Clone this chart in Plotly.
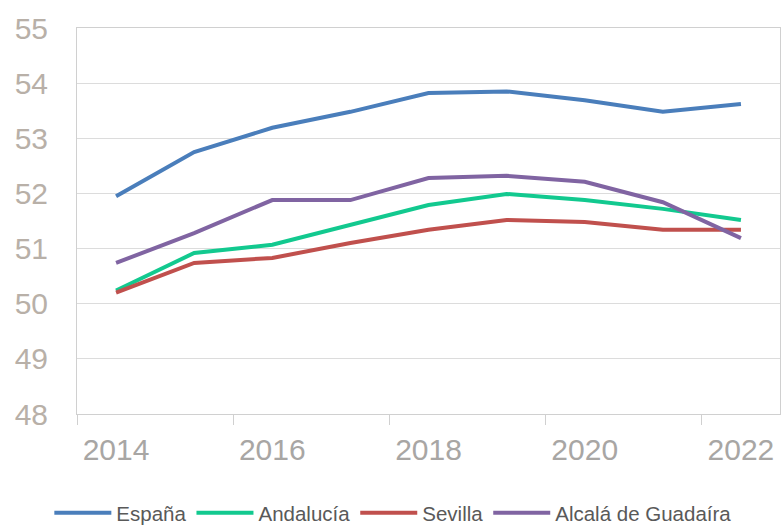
import plotly.graph_objects as go

years = ["2014", "2015", "2016", "2017", "2018", "2019", "2020", "2021", "2022"]

espana = [51.95, 52.75, 53.19, 53.48, 53.82, 53.85, 53.69, 53.48, 53.62]
andalucia = [50.24, 50.92, 51.07, 51.43, 51.79, 51.99, 51.88, 51.72, 51.52]
sevilla = [50.20, 50.74, 50.83, 51.10, 51.34, 51.52, 51.48, 51.34, 51.34]
alcala = [50.74, 51.28, 51.88, 51.88, 52.28, 52.32, 52.21, 51.84, 51.19]

series = [
    ("España", espana, "#4a7ebb"),
    ("Andalucía", andalucia, "#12c98f"),
    ("Sevilla", sevilla, "#c0504d"),
    ("Alcalá de Guadaíra", alcala, "#8064a2"),
]

fig = go.Figure()

for name, values, color in series:
    fig.add_trace(
        go.Scatter(
            x=years,
            y=values,
            mode="lines",
            name=name,
            line=dict(color=color, width=4),
        )
    )

fig.update_layout(
    width=781,
    height=525,
    margin=dict(l=77, r=1, t=28, b=111),
    paper_bgcolor="white",
    plot_bgcolor="white",
    font=dict(family="Liberation Sans, Arial, sans-serif"),
    legend=dict(
        orientation="h",
        xref="container",
        yref="container",
        x=0.503,
        xanchor="center",
        y=0.023,
        yanchor="middle",
        font=dict(size=20.5, color="#595959"),
        itemwidth=57,
    ),
)

fig.update_xaxes(
    type="category",
    range=[-0.5, len(years) - 0.5],
    tickson="boundaries",
    dtick=2,
    ticks="outside",
    ticklen=10,
    tickcolor="#d0d0d0",
    showgrid=False,
    showline=True,
    mirror=True,
    linecolor="#d0d0d0",
    ticklabelstandoff=9,
    tickfont=dict(size=30, color="#a8a6a4"),
    automargin=False,
)

fig.update_yaxes(
    range=[48, 55],
    dtick=1,
    showgrid=True,
    gridcolor="#dcdcdc",
    showline=True,
    mirror=True,
    linecolor="#d0d0d0",
    ticks="",
    ticklabelstandoff=22,
    tickfont=dict(size=30, color="#b8b0a8"),
    zeroline=False,
    automargin=False,
)

# drop the default body margin so the figure sits at the page corner
fig.write_html(
    "out.html",
    config={"displayModeBar": False},
    post_script="document.body.style.margin = '0';",
)
